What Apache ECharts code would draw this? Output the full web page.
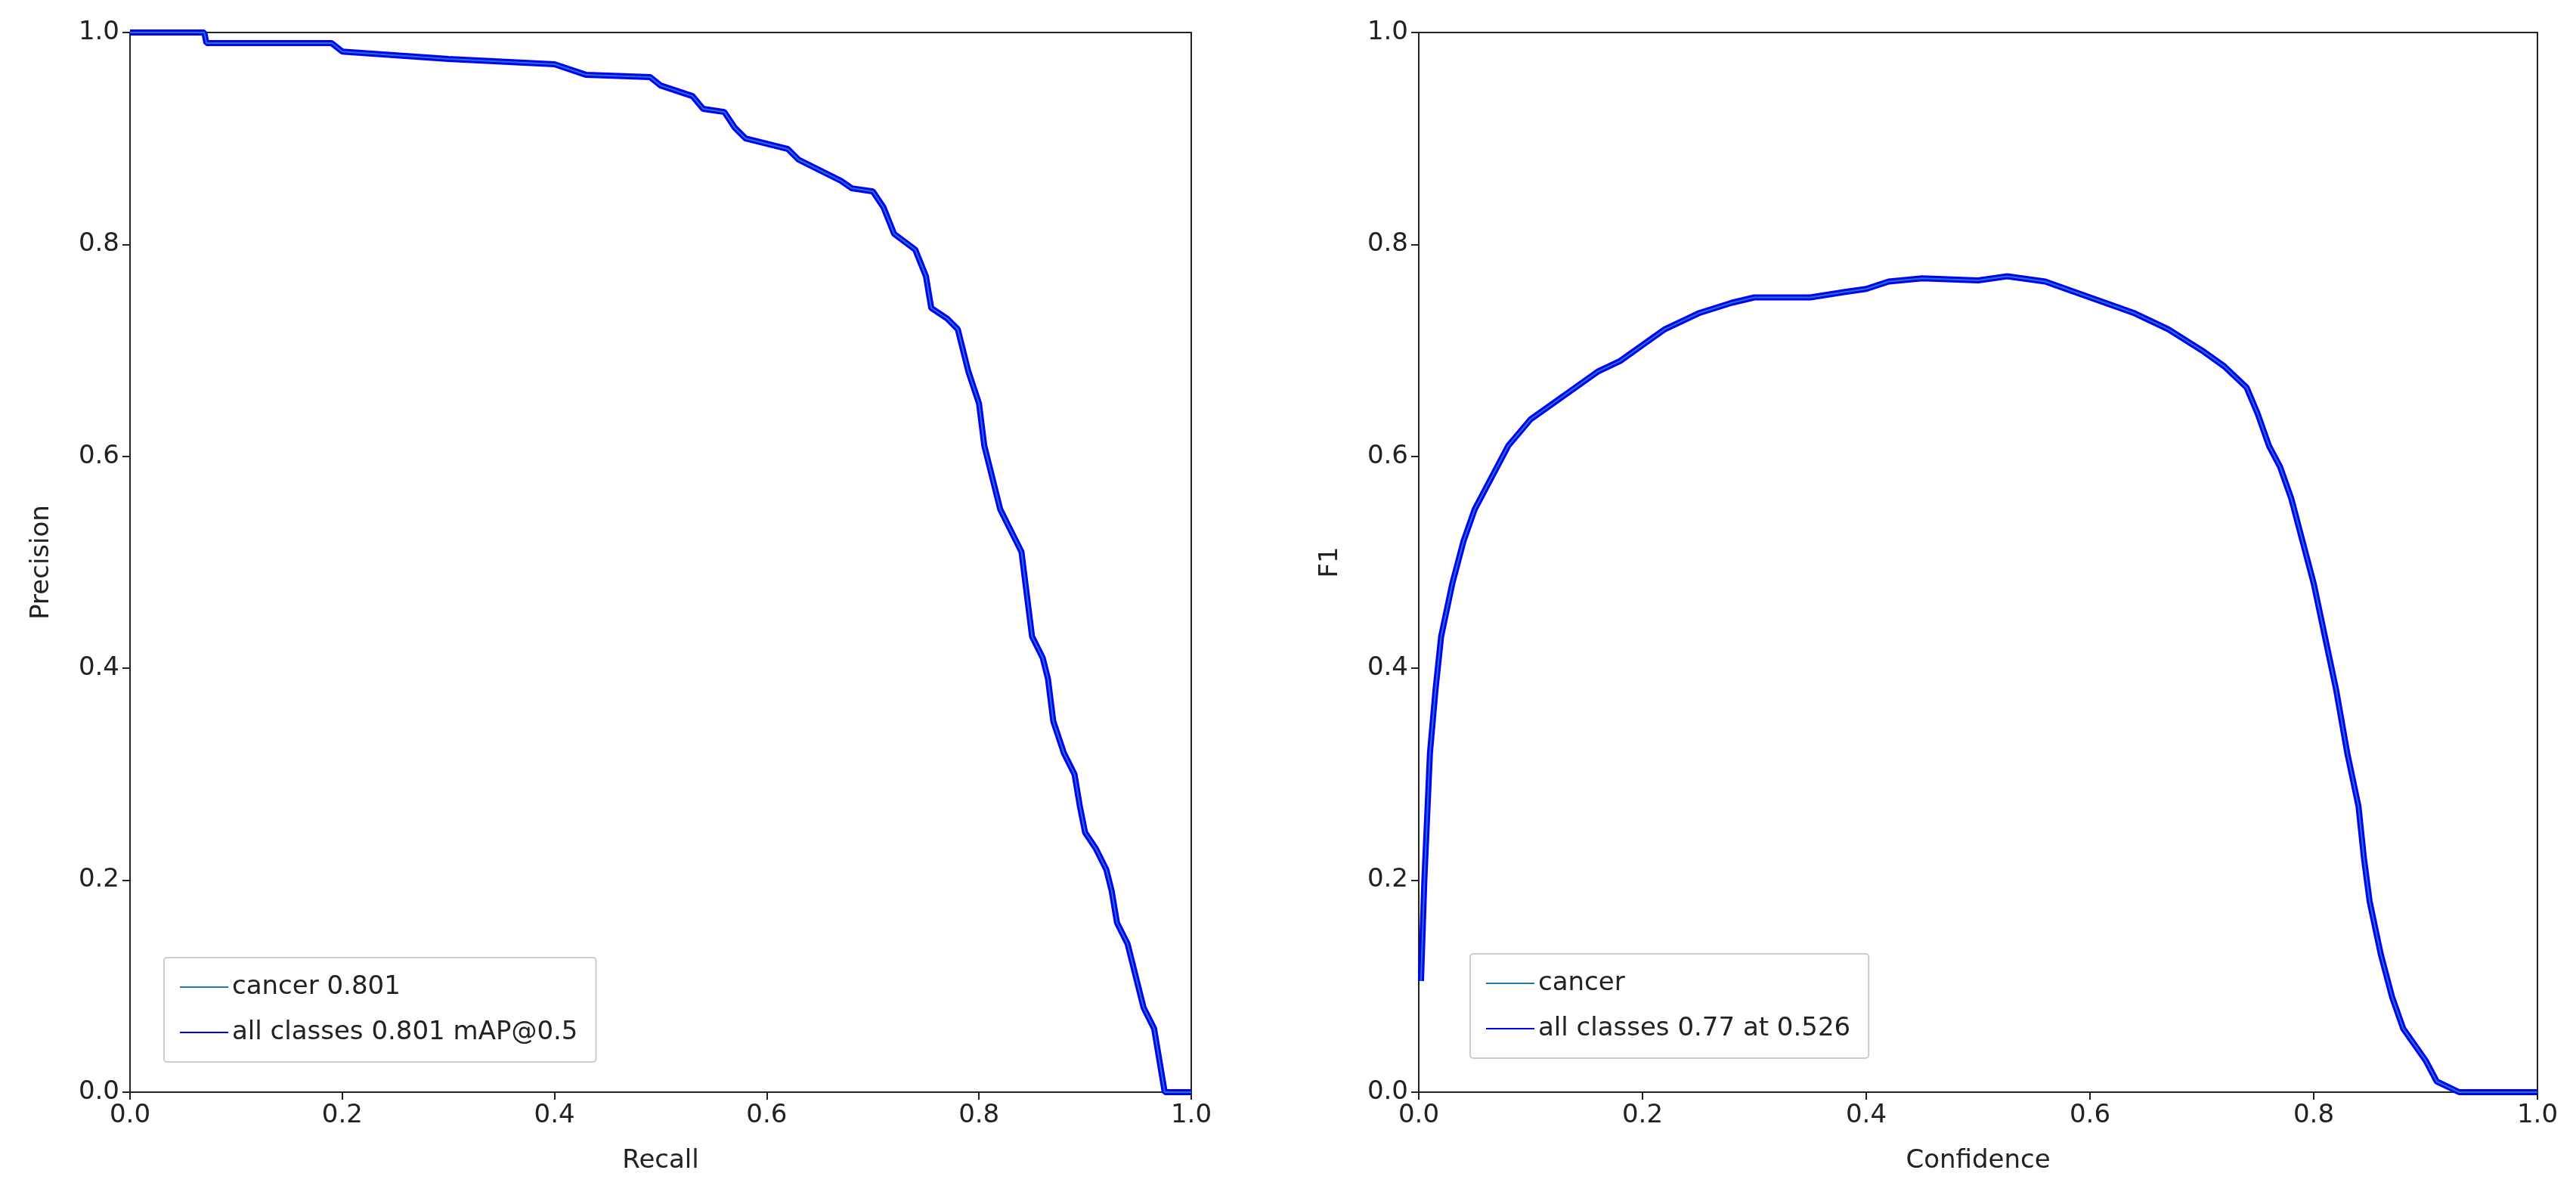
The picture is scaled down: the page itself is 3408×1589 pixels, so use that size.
<!DOCTYPE html>
<html>
<head>
<meta charset="utf-8">
<script src="https://cdn.jsdelivr.net/npm/echarts@6/dist/echarts.min.js"></script>
<style>html,body{margin:0;padding:0;background:#fff}#chart{width:3408px;height:1589px}</style>
</head>
<body>
<div id="chart"></div>
<script>
// PR curve (recall, precision)
var prRecall = [0,0.07,0.072,0.19,0.2,0.3,0.4,0.43,0.49,0.5,0.53,0.54,0.56,0.57,0.58,0.6,0.62,0.63,0.65,0.67,0.68,0.7,0.71,0.72,0.74,0.75,0.755,0.77,0.78,0.79,0.8,0.805,0.81,0.82,0.83,0.84,0.845,0.85,0.86,0.865,0.87,0.88,0.89,0.895,0.9,0.91,0.92,0.925,0.93,0.94,0.945,0.95,0.955,0.965,0.975,1.0];
var prPrecision = [1.0,1.0,0.99,0.99,0.982,0.975,0.97,0.96,0.958,0.95,0.94,0.928,0.925,0.91,0.9,0.895,0.89,0.88,0.87,0.86,0.853,0.85,0.835,0.81,0.795,0.77,0.74,0.73,0.72,0.68,0.65,0.61,0.59,0.55,0.53,0.51,0.47,0.43,0.41,0.39,0.35,0.32,0.3,0.27,0.245,0.23,0.21,0.19,0.16,0.14,0.12,0.1,0.08,0.06,0.0,0.0];
// F1 curve (confidence, f1)
var f1Conf = [0.002,0.005,0.01,0.015,0.02,0.03,0.04,0.05,0.06,0.07,0.08,0.1,0.12,0.14,0.16,0.18,0.2,0.22,0.25,0.28,0.3,0.35,0.38,0.4,0.42,0.45,0.5,0.526,0.56,0.6,0.64,0.67,0.7,0.72,0.74,0.75,0.76,0.77,0.78,0.79,0.8,0.81,0.82,0.83,0.84,0.845,0.85,0.86,0.87,0.88,0.9,0.91,0.93,1.0];
var f1Value = [0.105,0.2,0.32,0.38,0.43,0.48,0.52,0.55,0.57,0.59,0.61,0.635,0.65,0.665,0.68,0.69,0.705,0.72,0.735,0.745,0.75,0.75,0.755,0.758,0.765,0.768,0.766,0.77,0.765,0.75,0.735,0.72,0.7,0.685,0.665,0.64,0.61,0.59,0.56,0.52,0.48,0.43,0.38,0.32,0.27,0.22,0.18,0.13,0.09,0.06,0.03,0.01,0.0,0.0];
var tickLabels = ['0.0','0.2','0.4','0.6','0.8','1.0'];

function zip(a, b){
	return a.map(function(v, i){ return [v, b[i]]; });
}
var font = 'DejaVu Sans';
function axis(idx, name, isY){
	return {
		type: 'value', gridIndex: idx, min: 0, max: 1, interval: 0.2,
		name: name, nameLocation: 'middle', nameGap: isY ? 100 : 74,
		nameTextStyle: {fontSize: 34, color: '#222', fontFamily: font},
		axisLine: {show: true, lineStyle: {color: '#222', width: 2}},
		axisTick: {show: true, length: 10, lineStyle: {color: '#222', width: 2}},
		axisLabel: {fontSize: 34, color: '#222', fontFamily: font, margin: 14,
			formatter: function(v){ return tickLabels[Math.round(v * 5)]; }},
		splitLine: {show: false}
	};
}
function series(name, idx, data, color, width, z){
	return {name: name, type: 'line', xAxisIndex: idx, yAxisIndex: idx, data: data,
		showSymbol: false, symbol: 'none', lineStyle: {color: color, width: width},
		itemStyle: {color: color}, z: z, animation: false};
}
function legend(names, left, top){
	return {
		data: names.map(function(n){ return {name: n, itemStyle: {opacity: 0}}; }),
		orient: 'vertical', left: left, top: top,
		backgroundColor: '#fff', borderColor: '#ccc', borderWidth: 2, borderRadius: 4,
		padding: [22, 24, 22, 20], itemGap: 26, itemWidth: 64, itemHeight: 14,
		textStyle: {fontSize: 34, color: '#222', fontFamily: font}
	};
}
var chart = echarts.init(document.getElementById('chart'));
chart.setOption({
	backgroundColor: '#fff',
	animation: false,
	grid: [
		{left: 172, top: 43, width: 1404, height: 1402, show: true, borderColor: '#222', borderWidth: 2},
		{left: 1877, top: 43, width: 1480, height: 1402, show: true, borderColor: '#222', borderWidth: 2}
	],
	xAxis: [axis(0, 'Recall', false), axis(1, 'Confidence', false)],
	yAxis: [axis(0, 'Precision', true), axis(1, 'F1', true)],
	legend: [
		legend(['cancer 0.801', 'all classes 0.801 mAP@0.5'], 217, 1267),
		legend(['cancer', 'all classes 0.77 at 0.526'], 1945, 1262)
	],
	series: [
		series('all classes 0.801 mAP@0.5', 0, zip(prRecall, prPrecision), '#0000ff', 8, 2),
		series('cancer 0.801', 0, zip(prRecall, prPrecision), '#1f77b4', 2, 3),
		series('all classes 0.77 at 0.526', 1, zip(f1Conf, f1Value), '#0000ff', 8, 2),
		series('cancer', 1, zip(f1Conf, f1Value), '#1f77b4', 2, 3)
	]
});
</script>
</body>
</html>
